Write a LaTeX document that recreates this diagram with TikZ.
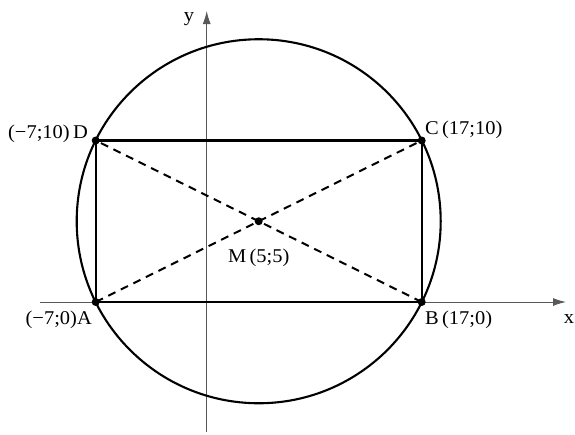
\documentclass[tikz,border=0pt]{standalone}
\usepackage{fontspec}
\setmainfont{Liberation Serif}
\newfontfamily\labfont[FakeStretch=1.05]{Liberation Serif}
\usetikzlibrary{arrows.meta}
\begin{document}
\begin{tikzpicture}[x=1pt,y=-1pt,
  axis/.style={line width=1pt,draw=black!65,-{Latex[length=13pt,width=8pt]}},
  thick line/.style={line width=2.1pt},
  diag/.style={line width=2pt,dash pattern=on 8pt off 6pt},
  lab/.style={font=\labfont\fontsize{19.5}{19.5}\selectfont,inner sep=0pt},
  dot/.style={circle,fill=black,inner sep=0pt,minimum size=8pt}]
\useasboundingbox (0,0) rectangle (575,434);
\coordinate (A) at (95.7,302);
\coordinate (B) at (421.7,302);
\coordinate (C) at (421.7,140.5);
\coordinate (D) at (95.7,140.5);
\coordinate (M) at (258.7,221.25);
\coordinate (xs) at (40,302);
\coordinate (xe) at (566,302);
\coordinate (ys) at (206.7,432);
\coordinate (ye) at (206.7,11);
% axes
\draw[axis] (xs) -- (xe);
\draw[axis] (ys) -- (ye);
% circle
\draw[thick line] (M) circle[radius=182pt];
% rectangle
\draw[thick line] (A) -- (B) -- (C) -- (D) -- cycle;
% diagonals
\draw[diag] (A) -- (C);
\draw[diag] (B) -- (D);
% points
\foreach \p in {A,B,C,D,M} \node[dot] (d\p) at (\p) {};
% labels
\node[lab] (ylab) at (189,19) {y};
\node[lab] (xlab) at (569,319) {x};
\node[lab,anchor=east] (Dlab) at (88,134) {(−7;10)\,D};
\node[lab,anchor=west] (Clab) at (425,130) {C\,(17;10)};
\node[lab,anchor=east] (Alab) at (92,320) {(−7;0)A};
\node[lab,anchor=west] (Blab) at (425,320) {B\,(17;0)};
\node[lab,anchor=west] (Mlab) at (228,258) {M\,(5;5)};
\end{tikzpicture}
\end{document}
